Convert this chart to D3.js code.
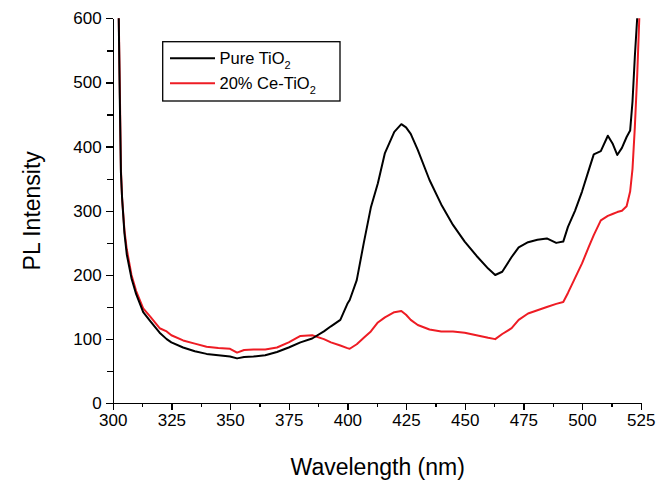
<!DOCTYPE html>
<html>
<head>
  <meta charset="utf-8">
  <title>PL Intensity</title>
  <script src="https://d3js.org/d3.v7.min.js"></script>
  <style>
    body { margin: 0; background: #fff; }
    svg { font-family: "Liberation Sans", Arial, sans-serif; }
    .axis path, .axis line { stroke: #000; stroke-width: 1.3; shape-rendering: crispEdges; }
    .axis text { font-size: 17px; fill: #000; }
  </style>
</head>
<body>
  <div id="chart"></div>
  <script>
    // wavelength (nm) sample points
    const wavelength = [302.5, 303, 303.5, 304, 305, 306, 308, 310, 313, 316, 320, 323, 325, 330, 335, 340, 345, 350,
      353, 356, 360, 365, 370, 375, 380, 385, 390, 393, 397, 400, 401, 404, 407, 410, 413, 416, 420, 423, 425, 427,
      430, 435, 440, 445, 450, 455, 460, 463, 466, 470, 473, 477, 481, 485, 489, 492, 494, 497, 500, 503, 505, 508,
      511, 513, 515, 517, 519, 520.5, 521.5, 522.5, 523.5, 524.5];
    const pureTiO2 = [620, 480, 360, 320, 265, 232, 195, 170, 142, 128, 110, 100, 95, 87, 81, 77, 75, 73,
      70, 72, 73, 75, 80, 87, 95, 101, 112, 120, 130, 155, 161, 192, 250, 305, 343, 390, 423, 435, 430, 420,
      395, 348, 310, 278, 252, 230, 210, 200, 205, 228, 243, 251, 255, 257, 250, 252, 275, 300, 330, 365, 388, 393,
      417, 405, 387, 398, 415, 425, 470, 540, 600, 680];
    const ceTiO2 = [620, 500, 365, 320, 270, 240, 200, 175, 148, 135, 117, 112, 106, 98, 93, 88, 86, 85,
      79, 83, 84, 84, 87, 95, 105, 106, 100, 95, 90, 86, 85, 92, 102, 112, 126, 134, 142, 144, 138, 130,
      122, 115, 112, 112, 110, 106, 102, 100, 108, 117, 130, 140, 145, 150, 155, 158, 172, 195, 218, 245, 262, 285,
      292, 295, 298, 300, 307, 330, 365, 430, 510, 610];
    const xTicks = [300, 325, 350, 375, 400, 425, 450, 475, 500, 525];
    const yTicks = [0, 100, 200, 300, 400, 500, 600];
    const seriesNames = ["Pure TiO", "20% Ce-TiO"];
    const seriesColors = ["#000000", "#ee1c24"];

    const W = 657, H = 489;
    const margin = { top: 18.3, right: 16.3, bottom: 85.7, left: 112.7 };
    const width = W - margin.left - margin.right;
    const height = H - margin.top - margin.bottom;

    const svg = d3.select("#chart").append("svg")
      .attr("width", W).attr("height", H);

    const g = svg.append("g")
      .attr("transform", `translate(${margin.left},${margin.top})`);

    const x = d3.scaleLinear().domain([300, 525]).range([0, width]);
    const y = d3.scaleLinear().domain([0, 600]).range([height, 0]);

    g.append("clipPath").attr("id", "clip")
      .append("rect").attr("x", 0).attr("y", 0).attr("width", width + 2).attr("height", height);

    // minor ticks
    g.append("g").attr("class", "axis")
      .attr("transform", `translate(0,${height})`)
      .call(d3.axisBottom(x).tickValues(d3.range(312.5, 525, 25)).tickSize(4).tickFormat(""))
      .select(".domain").remove();
    g.append("g").attr("class", "axis")
      .call(d3.axisLeft(y).tickValues(d3.range(50, 600, 100)).tickSize(6).tickFormat(""))
      .select(".domain").remove();

    g.append("g").attr("class", "axis")
      .attr("transform", `translate(0,${height})`)
      .call(d3.axisBottom(x).tickValues(xTicks).tickSize(7).tickSizeOuter(0).tickPadding(4));
    g.append("g").attr("class", "axis")
      .call(d3.axisLeft(y).tickValues(yTicks).tickSize(7).tickSizeOuter(0).tickPadding(4));

    const line = d3.line()
      .x((d, i) => x(wavelength[i]))
      .y(d => y(d));

    [ceTiO2, pureTiO2].forEach((data, k) => {
      g.append("path")
        .datum(data)
        .attr("clip-path", "url(#clip)")
        .attr("fill", "none")
        .attr("stroke", k === 0 ? seriesColors[1] : seriesColors[0])
        .attr("stroke-width", 2)
        .attr("stroke-linejoin", "round")
        .attr("d", line);
    });

    // axis titles
    svg.append("text")
      .attr("x", margin.left + width / 2 + 1)
      .attr("y", 475)
      .attr("text-anchor", "middle")
      .style("font-size", "23px")
      .text("Wavelength (nm)");

    svg.append("text")
      .attr("transform", `translate(40,${margin.top + height / 2}) rotate(-90)`)
      .attr("text-anchor", "middle")
      .style("font-size", "23px")
      .text("PL Intensity");

    // legend
    const legend = svg.append("g");
    legend.append("rect")
      .attr("x", 162.7).attr("y", 41.7).attr("width", 177.3).attr("height", 59.3)
      .attr("fill", "#fff").attr("stroke", "#000").attr("stroke-width", 1.3);

    seriesNames.forEach((name, i) => {
      const ly = 58.3 + i * 25;
      legend.append("line")
        .attr("x1", 170).attr("x2", 215).attr("y1", ly).attr("y2", ly)
        .attr("stroke", seriesColors[i]).attr("stroke-width", 2);
      const t = legend.append("text")
        .attr("x", 219.5).attr("y", ly + 6)
        .style("font-size", "16.5px");
      t.append("tspan").text(name);
      t.append("tspan").attr("dy", 5).style("font-size", "11px").text("2");
    });
  </script>
</body>
</html>
